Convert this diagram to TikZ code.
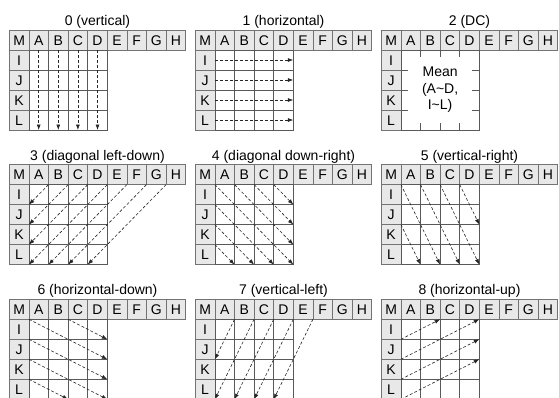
\documentclass[tikz,border=0pt]{standalone}
\usepackage{fontspec}
\setmainfont{Liberation Sans}
\usetikzlibrary{arrows.meta,positioning,calc}

\begin{document}
\begin{tikzpicture}[
  x=1pt, y=-1pt,
  font=\fontsize{14}{16.5}\selectfont,
  hd/.style={draw=black!55, fill=black!9, line width=0.8pt, minimum width=19.6pt, minimum height=20pt,
    inner sep=0pt, outer sep=0pt, anchor=north west, text height=10pt, text depth=0pt},
  cell/.style={draw=black!65, line width=0.8pt, minimum width=19.6pt, minimum height=20pt,
    inner sep=0pt, outer sep=0pt, anchor=north west},
  ttl/.style={anchor=base},
  tick/.style={draw=black!65, line width=0.8pt},
  arr/.style={black!85, line width=0.6pt, dash pattern=on 3pt off 2pt, -{Latex[length=5.5pt,width=4pt]}}
]
\useasboundingbox (0,0) rectangle (559,397);
\foreach \p/\ox/\oy/\ttl in {0/9.3/30/{0 (vertical)}, 1/195.3/30/{1 (horizontal)}, 2/381.3/30/{2 (DC)},
  3/9.3/164.6/{3 (diagonal left-down)}, 4/195.3/164.6/{4 (diagonal down-right)}, 5/381.3/164.6/{5 (vertical-right)},
  6/9.3/299.3/{6 (horizontal-down)}, 7/195.3/299.3/{7 (vertical-left)}, 8/381.3/299.3/{8 (horizontal-up)}} {
  \foreach \l [count=\c from 0] in {M,A,B,C,D,E,F,G,H}
    \node[hd] (t\p-\c) at (\ox+\c*19.6, \oy) {\l};
  \foreach \l [count=\r] in {I,J,K,L}
    \node[hd] (s\p-\r) at (\ox, \oy+\r*20) {\l};
  \ifnum\p=2 \else
    \foreach \r in {1,...,4} \foreach \c in {1,...,4}
      \node[cell] (g\p-\r\c) at (\ox+\c*19.6, \oy+\r*20) {};
  \fi
  \node[ttl] (n\p) at ($(t\p-0.north west)!0.5!(t\p-8.north east)+(0pt,4.5pt)$) {\ttl};
}

\foreach \c in {1,...,4} \draw[arr] (t0-\c.south) -- (g0-4\c.south);

\foreach \r in {1,...,4} \draw[arr] (s1-\r.east) -- (g1-\r4.east);

\node[cell, minimum width=78.4pt, minimum height=80pt, align=center] (m2) at (t2-1.south west)
  {Mean\\(A\textasciitilde D,\\I\textasciitilde L)};
\foreach \c in {2,3,4} {
  \draw[tick] (t2-\c.south west) -- ++(0pt,-7pt);
  \draw[tick] (t2-\c.south west |- m2.south) -- ++(0pt,7pt);
}
\foreach \r in {1,2,3} {
  \draw[tick] (s2-\r.south east) -- ++(7pt,0pt);
  \draw[tick] (s2-\r.south east -| m2.east) -- ++(-7pt,0pt);
}

\foreach \c [evaluate=\c as \k using int(\c-1)] in {2,...,5} \draw[arr] (t3-\c.south west) -- (s3-\k.south east);
\foreach \c [evaluate=\c as \k using int(\c-5)] in {6,7,8} \draw[arr] (t3-\c.south west) -- (g3-4\k.south east);

\foreach \c [evaluate=\c as \k using int(5-\c)] in {1,...,4} \draw[arr] (t4-\c.south west) -- (g4-\k4.south east);
\foreach \r [evaluate=\r as \k using int(4-\r)] in {1,2,3} \draw[arr] (s4-\r.south east) -- (g4-4\k.south east);

\draw[arr] (t5-1.south west) -- (g5-42.south east);
\draw[arr] (t5-2.south west) -- (g5-43.south east);
\draw[arr] (t5-3.south west) -- (g5-44.south east);
\draw[arr] (t5-4.south west) -- (g5-24.south east);
\draw[arr] (s5-2.south east) -- (g5-41.south east);

\draw[arr] (t6-1.south west) -- (g6-24.south east);
\draw[arr] (t6-3.south west) -- (g6-14.south east);
\draw[arr] (s6-1.south east) -- (g6-34.south east);
\draw[arr] (s6-2.south east) -- (g6-44.south east);
\draw[arr] (s6-3.south east) -- (g6-42.south east);

\draw[arr] (t7-2.south west) -- (s7-2.south east);
\draw[arr] (t7-3.south west) -- (s7-4.south east);
\draw[arr] (t7-4.south west) -- (g7-41.south east);
\draw[arr] (t7-5.south west) -- (g7-42.south east);
\draw[arr] (t7-6.south west) -- (g7-43.south east);

\draw[arr] (s8-1.south east) -- (t8-3.south west);
\draw[arr] (s8-2.south east) -- (t8-5.south west);
\draw[arr] (s8-3.south east) -- (g8-14.south east);
\draw[arr] (s8-4.south east) -- (g8-24.south east);
\end{tikzpicture}
\end{document}
